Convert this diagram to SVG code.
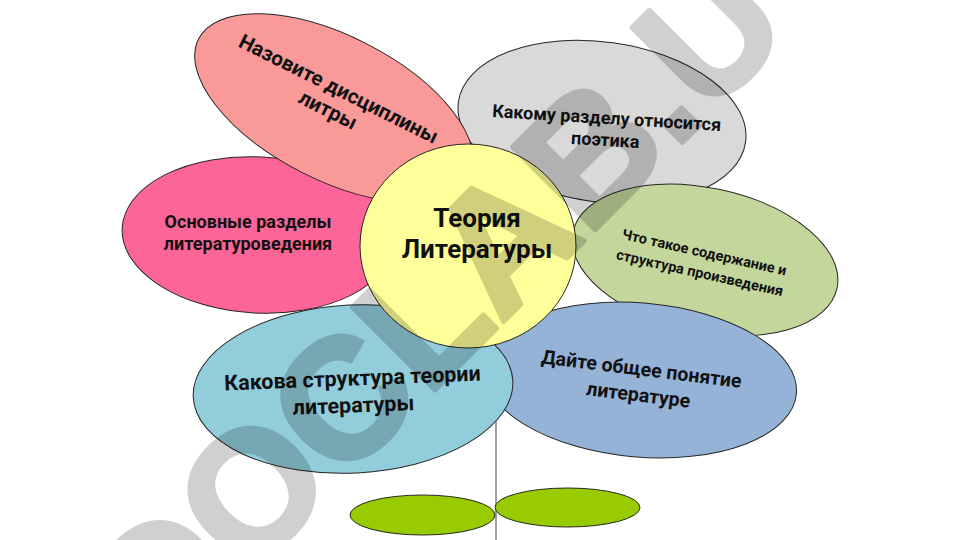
<svg xmlns="http://www.w3.org/2000/svg" width="960" height="540" viewBox="0 0 960 540">
  <style>
    .petal { stroke: #262626; stroke-width: 1; }
    .lbl { font-family: Roboto, "Noto Sans", "Liberation Sans", sans-serif; font-weight: bold; fill: #111; text-anchor: middle; }
    .wm { font-family: "Liberation Sans", Arial, sans-serif; font-weight: bold; font-size: 170px; fill: #000; stroke: #000; stroke-width: 5; stroke-linejoin: round; }
  </style>
  <rect x="0" y="0" width="960" height="540" fill="#ffffff"/>

  <g id="connectors">
    <line x1="496" y1="300" x2="496" y2="540" stroke="#7f7f7f" stroke-width="1.5"/>
  </g>

  <g id="leaf-left">
    <ellipse class="petal" cx="422.5" cy="515" rx="72.5" ry="20" fill="#99cc00"/>
  </g>
  <g id="leaf-right">
    <ellipse class="petal" cx="567.5" cy="507.5" rx="72.5" ry="19.5" fill="#99cc00"/>
  </g>

  <g id="petal-poetika">
    <ellipse class="petal" cx="602" cy="122" rx="145" ry="80" transform="rotate(8 602 122)" fill="#d9d9d9"/>
    <g transform="translate(606 129) rotate(3.5)">
      <text class="lbl" x="0" y="-5" font-size="18">Какому разделу относится</text>
      <text class="lbl" x="0" y="17" font-size="18">поэтика</text>
    </g>
  </g>

  <g id="petal-soderzhanie">
    <ellipse class="petal" cx="705" cy="260" rx="135" ry="72" transform="rotate(12 705 260)" fill="#c3d69b"/>
    <g transform="translate(702 262.5) rotate(12.6)">
      <text class="lbl" x="0" y="-5.5" font-size="14.5">Что такое содержание и</text>
      <text class="lbl" x="0" y="15.5" font-size="14.5">структура произведения</text>
    </g>
  </g>

  <g id="petal-ponyatie">
    <ellipse class="petal" cx="640" cy="380" rx="157" ry="77" transform="rotate(5 640 380)" fill="#95b3d7"/>
    <g transform="translate(640 381.5) rotate(7)">
      <text class="lbl" x="0" y="-6" font-size="19.5">Дайте общее понятие</text>
      <text class="lbl" x="0" y="20" font-size="19.5">литературе</text>
    </g>
  </g>

  <g id="petal-struktura">
    <ellipse class="petal" cx="353" cy="389" rx="160" ry="84" transform="rotate(-3 353 389)" fill="#92cddc"/>
    <g transform="translate(353 391.5) rotate(-2.2)">
      <text class="lbl" x="0" y="-6" font-size="21.5">Какова структура теории</text>
      <text class="lbl" x="0" y="21" font-size="21.5">литературы</text>
    </g>
  </g>

  <g id="petal-razdely">
    <ellipse class="petal" cx="258" cy="235" rx="136" ry="78" transform="rotate(3 258 235)" fill="#fd6598"/>
    <text class="lbl" x="248" y="228" font-size="18">Основные разделы</text>
    <text class="lbl" x="248" y="250" font-size="18">литературоведения</text>
  </g>

  <g id="petal-discipliny">
    <ellipse class="petal" cx="334" cy="108" rx="152" ry="72" transform="rotate(27 334 108)" fill="#fa9a98"/>
    <g transform="translate(333 100) rotate(26.5)">
      <text class="lbl" x="0" y="-5.5" font-size="20.5">Назовите дисциплины</text>
      <text class="lbl" x="0" y="18" font-size="20.5">литры</text>
    </g>
  </g>

  <g id="center">
    <ellipse class="petal" cx="468" cy="246" rx="108" ry="102" fill="#ffff99"/>
    <text class="lbl" x="477" y="227" font-size="26">Теория</text>
    <text class="lbl" x="477" y="258" font-size="26">Литературы</text>
  </g>

  <g id="watermark" opacity="0.18" transform="translate(160 665) rotate(-45)">
    <text class="wm" x="0" y="0">DOCLAB.U</text>
  </g>
</svg>
